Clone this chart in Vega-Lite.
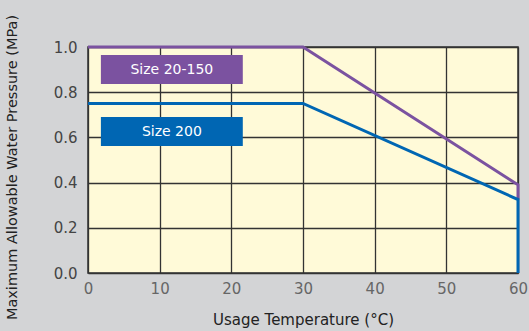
{
  "$schema": "https://vega.github.io/schema/vega-lite/v6.json",
  "width": 430,
  "height": 226,
  "autosize": {"type": "none"},
  "padding": {"left": 88, "top": 47, "right": 11, "bottom": 58},
  "background": "#d3d4d6",
  "config": {
    "view": {"fill": "#fffad8", "stroke": "#333333", "strokeWidth": 1.5},
    "font": "DejaVu Sans"
  },
  "datasets": {
    "lines": [
      {"series": "Size 20-150", "t": 0, "p": 1.0, "o": 1},
      {"series": "Size 20-150", "t": 30, "p": 1.0, "o": 2},
      {"series": "Size 20-150", "t": 60, "p": 0.39, "o": 3},
      {"series": "Size 20-150", "t": 60, "p": 0.325, "o": 4},
      {"series": "Size 200", "t": 0, "p": 0.75, "o": 1},
      {"series": "Size 200", "t": 30, "p": 0.75, "o": 2},
      {"series": "Size 200", "t": 60, "p": 0.325, "o": 3},
      {"series": "Size 200", "t": 60, "p": 0.0, "o": 4}
    ],
    "boxes": [
      {"series": "Size 20-150", "x1": 1.8, "x2": 21.6, "y1": 0.836, "y2": 0.965, "xm": 11.7, "ym": 0.9},
      {"series": "Size 200", "x1": 1.8, "x2": 21.6, "y1": 0.562, "y2": 0.69, "xm": 11.7, "ym": 0.626}
    ]
  },
  "layer": [
    {
      "data": {"name": "lines"},
      "mark": {"type": "line", "strokeWidth": 3, "clip": false},
      "encoding": {
        "x": {
          "field": "t", "type": "quantitative",
          "scale": {"domain": [0, 60], "nice": false},
          "axis": {
            "values": [0, 10, 20, 30, 40, 50, 60],
            "title": "Usage Temperature (°C)",
            "titleFontSize": 15, "titleFontWeight": "normal", "titleColor": "#222222", "titlePadding": 16,
            "labelFontSize": 15, "labelColor": "#666666", "labelPadding": 8, "labelFlush": false,
            "ticks": false, "domain": false,
            "grid": true, "gridColor": "#333333", "gridWidth": 1.3, "gridOpacity": 1
          }
        },
        "y": {
          "field": "p", "type": "quantitative",
          "scale": {"domain": [0, 1], "nice": false},
          "axis": {
            "values": [0, 0.2, 0.4, 0.6, 0.8, 1.0],
            "format": ".1f",
            "title": "Maximum Allowable Water Pressure (MPa)",
            "titleFontSize": 14.5, "titleFontWeight": "normal", "titleColor": "#222222",
            "titleX": -76, "titleY": 120, "titleBaseline": "middle",
            "labelFontSize": 15, "labelColor": "#444444", "labelPadding": 11, "labelFlush": false,
            "ticks": false, "domain": false,
            "grid": true, "gridColor": "#333333", "gridWidth": 1.3, "gridOpacity": 1
          }
        },
        "detail": {"field": "series"},
        "order": {"field": "o"},
        "color": {
          "field": "series", "type": "nominal",
          "scale": {"domain": ["Size 20-150", "Size 200"], "range": ["#7b52a0", "#0066b3"]},
          "legend": null
        }
      }
    },
    {
      "data": {"name": "boxes"},
      "mark": {"type": "rect"},
      "encoding": {
        "x": {"field": "x1", "type": "quantitative"},
        "x2": {"field": "x2"},
        "y": {"field": "y1", "type": "quantitative"},
        "y2": {"field": "y2"},
        "color": {"field": "series", "type": "nominal", "legend": null}
      }
    },
    {
      "data": {"name": "boxes"},
      "mark": {"type": "text", "color": "white", "fontSize": 14, "align": "center", "baseline": "middle"},
      "encoding": {
        "x": {"field": "xm", "type": "quantitative"},
        "y": {"field": "ym", "type": "quantitative"},
        "text": {"field": "series"}
      }
    }
  ]
}
